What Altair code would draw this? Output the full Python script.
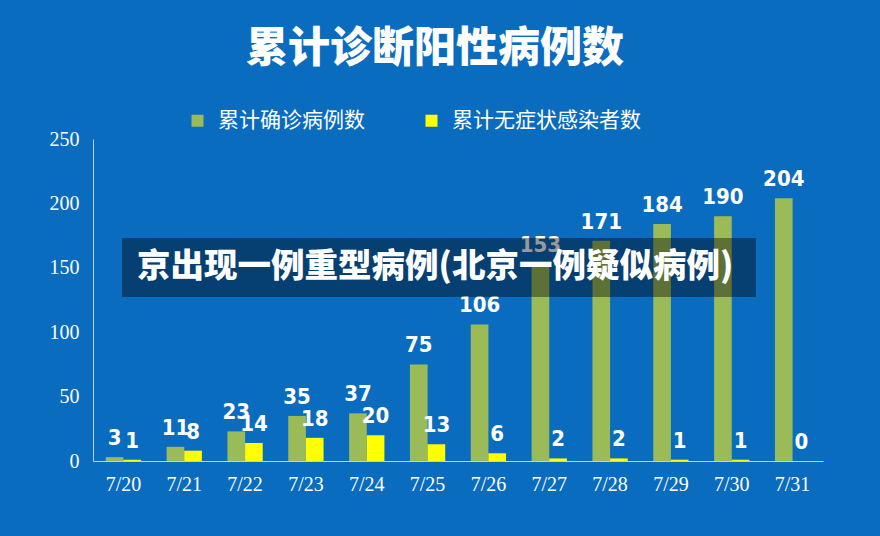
import altair as alt
import pandas as pd

# Daily cumulative counts, 20–31 July
dates = ["7/20", "7/21", "7/22", "7/23", "7/24", "7/25",
         "7/26", "7/27", "7/28", "7/29", "7/30", "7/31"]
confirmed = [3, 11, 23, 35, 37, 75, 106, 153, 171, 184, 190, 204]
asymptomatic = [1, 8, 14, 18, 20, 13, 6, 2, 2, 1, 1, 0]

series_names = ["累计确诊病例数", "累计无症状感染者数"]
series_colors = ["#9BBB59", "#FFFF00"]

title_text = "累计诊断阳性病例数"
banner_text = "京出现一例重型病例(北京一例疑似病例)"

rows = []
for d, c, a in zip(dates, confirmed, asymptomatic):
    rows.append({"date": d, "series": series_names[0], "value": c})
    rows.append({"date": d, "series": series_names[1], "value": a})
df = pd.DataFrame(rows)
banner_df = pd.DataFrame({"caption": [banner_text]})

BG = "#0A6CBF"
CJK = "Noto Sans CJK SC"
NARROW = "'Liberation Sans Narrow', 'DejaVu Sans Condensed', 'Roboto Condensed', 'Liberation Sans', sans-serif"

x_enc = alt.X(
    "date:N",
    sort=dates,
    scale=alt.Scale(paddingInner=0.42, paddingOuter=0.21),
    axis=alt.Axis(
        title=None, labelAngle=0, ticks=False, tickSize=0,
        labelFont="Liberation Serif", labelFontSize=20, labelColor="white",
        labelPadding=13, domainColor="#B8D0EA", domainWidth=1,
    ),
)
y_enc = alt.Y(
    "value:Q",
    scale=alt.Scale(domain=[0, 250], nice=False),
    axis=alt.Axis(
        title=None, values=[0, 50, 100, 150, 200, 250], grid=False,
        ticks=False, tickSize=0, labelFont="Liberation Serif",
        labelFontSize=20, labelColor="white", labelPadding=14,
        domainColor="#B8D0EA", domainWidth=1,
    ),
)
offset_enc = alt.XOffset("series:N", sort=series_names)

base = alt.Chart(df)

bars = base.mark_bar().encode(
    x=x_enc,
    xOffset=offset_enc,
    y=y_enc,
    color=alt.Color(
        "series:N",
        sort=series_names,
        scale=alt.Scale(domain=series_names, range=series_colors),
        legend=alt.Legend(
            title=None, orient="none", direction="horizontal",
            legendX=94, legendY=-29,
            symbolType="square", symbolSize=144, symbolStrokeWidth=0,
            labelFont=CJK, labelFontSize=21, labelColor="white",
            labelOffset=10, columnPadding=56, labelLimit=300,
        ),
    ),
)

labels = base.mark_text(
    baseline="bottom", dy=-7, color="white",
    font=NARROW, fontWeight="bold", fontSize=22,
).encode(
    x=alt.X("date:N", sort=dates),
    xOffset=offset_enc,
    y="value:Q",
    text="value:Q",
)

banner = alt.Chart(banner_df).mark_rect(color="black", opacity=0.4).encode(
    x=alt.value(29), x2=alt.value(663),
    y=alt.value(99), y2=alt.value(158),
)

banner_label = alt.Chart(banner_df).mark_text(
    align="left", baseline="middle", color="white",
    font=CJK, fontWeight=900, fontSize=33.5,
).encode(
    x=alt.value(44), y=alt.value(128), text="caption:N",
)

chart = alt.layer(bars, labels, banner, banner_label).properties(
    width=730,
    height=322,
    background=BG,
    padding={"left": 93, "top": 139, "right": 57, "bottom": 75},
    autosize=alt.AutoSizeParams(type="none"),
    title=alt.TitleParams(
        text=title_text, font=CJK, fontSize=42, fontWeight=900,
        color="white", anchor="middle", dx=-23, offset=39,
    ),
).configure_view(stroke=None)

chart.save("out.html", embed_options={"renderer": "svg", "actions": False})
